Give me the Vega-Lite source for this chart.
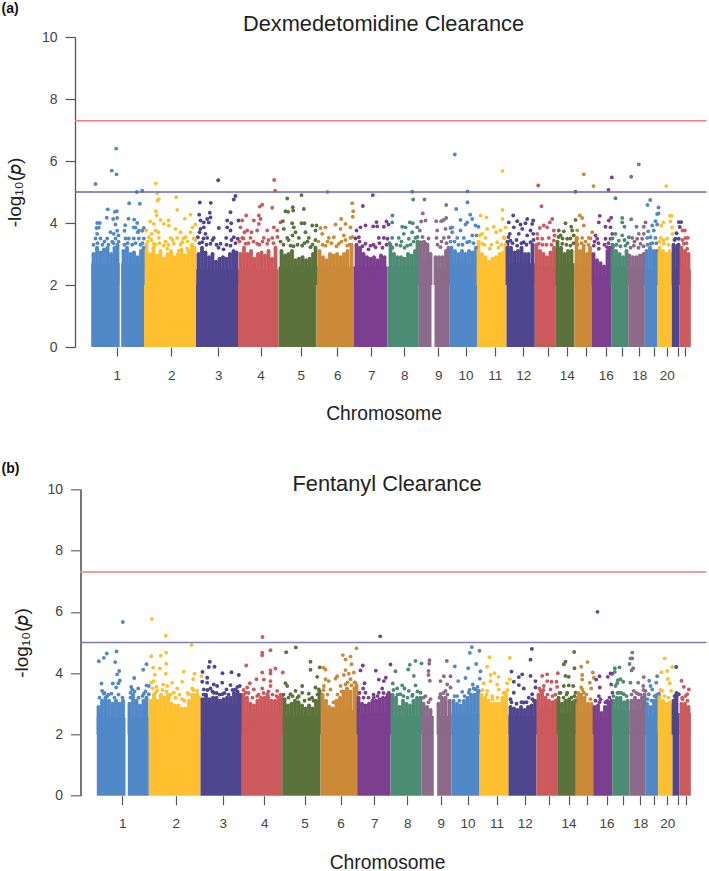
{"$schema":"https://vega.github.io/schema/vega-lite/v6.json","padding":{"left":1,"top":2,"right":0,"bottom":0},"bounds":"flush","spacing":142.3,"config":{"view":{"stroke":null},"font":"Liberation Sans"},
"datasets":{
"th_a":[{"y":7.3,"k":"genome-wide"},{"y":5,"k":"suggestive"}],
"rects_a":[{"c":1,"x":90.7,"x2":119.2,"y":2.7},{"c":1,"x":120.7,"x2":143.5,"y":2.7},{"c":2,"x":143.5,"x2":195.5,"y":2.6},{"c":3,"x":195.5,"x2":237.5,"y":2.5},{"c":4,"x":237.5,"x2":278,"y":2.5},{"c":5,"x":278,"x2":316,"y":2.6},{"c":6,"x":316,"x2":353.5,"y":2.6},{"c":7,"x":353.5,"x2":387,"y":2.6},{"c":8,"x":387,"x2":418.3,"y":2.6},{"c":9,"x":418.3,"x2":431,"y":2.8},{"c":9,"x":434,"x2":448.7,"y":2.5},{"c":10,"x":448.7,"x2":477,"y":2.7},{"c":11,"x":477,"x2":506,"y":2.6},{"c":12,"x":506,"x2":534.3,"y":2.7},{"c":13,"x":534.3,"x2":555.3,"y":2.6},{"c":14,"x":555.3,"x2":574,"y":2.7},{"c":15,"x":574,"x2":591,"y":2.6},{"c":16,"x":591,"x2":610.7,"y":2.3},{"c":17,"x":610.7,"x2":627.7,"y":2.6},{"c":18,"x":627.7,"x2":644.3,"y":2.6},{"c":19,"x":644.3,"x2":657,"y":2.5},{"c":20,"x":657,"x2":671.3,"y":2.4},{"c":21,"x":671.3,"x2":679,"y":2.5},{"c":22,"x":679,"x2":690.3,"y":2.5}],
"cols_a":[{"c":1,"x":93,"y":3},{"c":1,"x":96.5,"y":3.2},{"c":1,"x":100,"y":3.05},{"c":1,"x":103.5,"y":3.15},{"c":1,"x":107,"y":3.2},{"c":1,"x":110.5,"y":3},{"c":1,"x":114,"y":3.2},{"c":1,"x":117,"y":3.3},{"c":1,"x":123,"y":3.1},{"c":1,"x":126.5,"y":3.2},{"c":1,"x":130,"y":3},{"c":1,"x":133.5,"y":3.05},{"c":1,"x":137,"y":2.9},{"c":1,"x":140.5,"y":3.1},{"c":1,"x":143,"y":3.2},{"c":2,"x":146,"y":3.3},{"c":2,"x":149.5,"y":3},{"c":2,"x":153,"y":3.2},{"c":2,"x":156.5,"y":2.95},{"c":2,"x":160,"y":3.1},{"c":2,"x":163.5,"y":2.85},{"c":2,"x":167,"y":3},{"c":2,"x":170.5,"y":3.1},{"c":2,"x":174,"y":2.9},{"c":2,"x":177.5,"y":3},{"c":2,"x":181,"y":3.15},{"c":2,"x":184.5,"y":2.95},{"c":2,"x":188,"y":3.1},{"c":2,"x":191.5,"y":3.3},{"c":2,"x":194,"y":3.2},{"c":3,"x":198,"y":3},{"c":3,"x":201.5,"y":3.2},{"c":3,"x":205,"y":3.05},{"c":3,"x":208.5,"y":2.9},{"c":3,"x":212,"y":3},{"c":3,"x":215.5,"y":2.75},{"c":3,"x":219,"y":2.85},{"c":3,"x":222.5,"y":2.9},{"c":3,"x":226,"y":2.85},{"c":3,"x":229.5,"y":3},{"c":3,"x":233,"y":3.1},{"c":3,"x":236,"y":3.05},{"c":4,"x":240,"y":3},{"c":4,"x":243.5,"y":3.2},{"c":4,"x":247,"y":3},{"c":4,"x":250.5,"y":3.1},{"c":4,"x":254,"y":2.85},{"c":4,"x":257.5,"y":3},{"c":4,"x":261,"y":3.05},{"c":4,"x":264.5,"y":2.95},{"c":4,"x":268,"y":3.1},{"c":4,"x":271.5,"y":2.85},{"c":4,"x":275,"y":3.2},{"c":5,"x":281,"y":3.1},{"c":5,"x":284.5,"y":2.95},{"c":5,"x":288,"y":3},{"c":5,"x":291.5,"y":3.1},{"c":5,"x":295,"y":2.8},{"c":5,"x":298.5,"y":2.85},{"c":5,"x":302,"y":2.9},{"c":5,"x":305.5,"y":2.8},{"c":5,"x":309,"y":2.85},{"c":5,"x":312.5,"y":3},{"c":5,"x":315,"y":3.2},{"c":6,"x":319,"y":3.1},{"c":6,"x":322.5,"y":2.9},{"c":6,"x":326,"y":2.8},{"c":6,"x":329.5,"y":3},{"c":6,"x":333,"y":2.95},{"c":6,"x":336.5,"y":3},{"c":6,"x":340,"y":2.9},{"c":6,"x":343.5,"y":3},{"c":6,"x":347,"y":3.1},{"c":6,"x":351,"y":3.3},{"c":7,"x":356,"y":3.3},{"c":7,"x":359.5,"y":3.2},{"c":7,"x":363,"y":3},{"c":7,"x":366.5,"y":2.9},{"c":7,"x":370,"y":2.85},{"c":7,"x":373.5,"y":2.9},{"c":7,"x":377,"y":2.8},{"c":7,"x":380.5,"y":2.95},{"c":7,"x":384,"y":2.9},{"c":8,"x":390,"y":3.3},{"c":8,"x":393.5,"y":3},{"c":8,"x":397,"y":2.9},{"c":8,"x":400.5,"y":2.9},{"c":8,"x":404,"y":2.85},{"c":8,"x":407.5,"y":3},{"c":8,"x":411,"y":2.95},{"c":8,"x":414.5,"y":3.1},{"c":8,"x":417,"y":3.4},{"c":9,"x":420,"y":3.3},{"c":9,"x":423.5,"y":3.4},{"c":9,"x":427,"y":3.3},{"c":9,"x":430,"y":3},{"c":9,"x":435,"y":2.9},{"c":9,"x":438.5,"y":2.9},{"c":9,"x":442,"y":2.9},{"c":9,"x":445.5,"y":3.1},{"c":9,"x":448,"y":3.2},{"c":10,"x":451,"y":3.2},{"c":10,"x":454.5,"y":3.1},{"c":10,"x":458,"y":3},{"c":10,"x":461.5,"y":3.1},{"c":10,"x":465,"y":3},{"c":10,"x":468.5,"y":3.1},{"c":10,"x":472,"y":3.05},{"c":10,"x":475.5,"y":3.2},{"c":11,"x":478,"y":3.4},{"c":11,"x":481.5,"y":3},{"c":11,"x":485,"y":2.9},{"c":11,"x":488.5,"y":2.75},{"c":11,"x":492,"y":2.85},{"c":11,"x":495.5,"y":2.9},{"c":11,"x":499,"y":3},{"c":11,"x":502.5,"y":3.05},{"c":11,"x":505,"y":3.3},{"c":12,"x":507,"y":3.4},{"c":12,"x":510.5,"y":3.2},{"c":12,"x":514,"y":3.05},{"c":12,"x":517.5,"y":3.1},{"c":12,"x":521,"y":3.2},{"c":12,"x":524.5,"y":3},{"c":12,"x":528,"y":3},{"c":12,"x":532,"y":3.3},{"c":13,"x":536,"y":3.3},{"c":13,"x":539.5,"y":3.1},{"c":13,"x":543,"y":3},{"c":13,"x":546.5,"y":2.9},{"c":13,"x":550,"y":3.05},{"c":13,"x":553.5,"y":3.2},{"c":14,"x":557,"y":3.4},{"c":14,"x":560.5,"y":3.2},{"c":14,"x":564,"y":3},{"c":14,"x":567.5,"y":3.1},{"c":14,"x":571,"y":3.1},{"c":15,"x":576,"y":3.5},{"c":15,"x":579.5,"y":3.1},{"c":15,"x":583,"y":3.2},{"c":15,"x":586.5,"y":3},{"c":15,"x":589.5,"y":3.2},{"c":16,"x":593,"y":3},{"c":16,"x":596.5,"y":2.8},{"c":16,"x":600,"y":2.7},{"c":16,"x":603.5,"y":2.6},{"c":16,"x":607,"y":3.1},{"c":16,"x":609.5,"y":3.2},{"c":17,"x":612,"y":3.3},{"c":17,"x":615.5,"y":3.1},{"c":17,"x":619,"y":3},{"c":17,"x":622.5,"y":2.9},{"c":17,"x":626,"y":3.1},{"c":18,"x":629,"y":2.95},{"c":18,"x":632.5,"y":2.9},{"c":18,"x":636,"y":2.9},{"c":18,"x":639.5,"y":2.95},{"c":18,"x":643,"y":3},{"c":19,"x":646,"y":3.1},{"c":19,"x":649.5,"y":3.2},{"c":19,"x":653,"y":3.1},{"c":19,"x":656,"y":3.1},{"c":20,"x":659,"y":3.2},{"c":20,"x":662.5,"y":3.1},{"c":20,"x":666,"y":3},{"c":20,"x":669.5,"y":3.1},{"c":21,"x":673,"y":3.3},{"c":21,"x":676.5,"y":3.2},{"c":21,"x":678,"y":3.3},{"c":22,"x":681,"y":3.2},{"c":22,"x":684.5,"y":3.1},{"c":22,"x":688,"y":3}],
"pts_a":[{"c":1,"x":95,"y":5.26},{"c":1,"x":115.7,"y":6.4},{"c":1,"x":111.3,"y":5.69},{"c":1,"x":116,"y":5.57},{"c":1,"x":136.3,"y":5},{"c":1,"x":141.7,"y":5.04},{"c":1,"x":128.7,"y":4.64},{"c":1,"x":139.3,"y":4.62},{"c":1,"x":107.3,"y":4.44},{"c":1,"x":114.3,"y":4.36},{"c":1,"x":116.3,"y":4.38},{"c":1,"x":106.3,"y":4.17},{"c":1,"x":112.7,"y":4.13},{"c":1,"x":116.7,"y":4.16},{"c":1,"x":128,"y":4.14},{"c":1,"x":133.7,"y":4.11},{"c":1,"x":136.7,"y":4},{"c":1,"x":96.7,"y":4},{"c":1,"x":99.3,"y":4},{"c":1,"x":96,"y":3.84},{"c":1,"x":115,"y":3.95},{"c":1,"x":124.7,"y":3.93},{"c":1,"x":133.3,"y":3.86},{"c":1,"x":138.3,"y":3.75},{"c":1,"x":143.3,"y":3.84},{"c":1,"x":95,"y":3.5},{"c":1,"x":100,"y":3.5},{"c":1,"x":96.7,"y":3.65},{"c":1,"x":98.3,"y":3.85},{"c":1,"x":106.7,"y":3.5},{"c":1,"x":110,"y":3.7},{"c":1,"x":115,"y":3.5},{"c":1,"x":113.3,"y":3.65},{"c":1,"x":116.7,"y":3.75},{"c":1,"x":111.7,"y":3.4},{"c":1,"x":125,"y":3.5},{"c":1,"x":128.3,"y":3.5},{"c":1,"x":133.3,"y":3.5},{"c":1,"x":138.3,"y":3.5},{"c":1,"x":143.3,"y":3.5},{"c":1,"x":131.7,"y":3.3},{"c":1,"x":124,"y":3.75},{"c":1,"x":135,"y":3.85},{"c":1,"x":137.3,"y":3.7},{"c":1,"x":141.7,"y":3.75},
{"c":2,"x":155.3,"y":5.28},{"c":2,"x":156.7,"y":4.96},{"c":2,"x":158.3,"y":4.77},{"c":2,"x":157,"y":4.72},{"c":2,"x":175.7,"y":4.83},{"c":2,"x":176.7,"y":4.42},{"c":2,"x":155.3,"y":4.38},{"c":2,"x":156,"y":4.24},{"c":2,"x":149.7,"y":4.05},{"c":2,"x":160,"y":4.1},{"c":2,"x":168,"y":4.08},{"c":2,"x":168.3,"y":3.92},{"c":2,"x":190,"y":4.27},{"c":2,"x":184.3,"y":4.14},{"c":2,"x":195,"y":3.95},{"c":2,"x":192,"y":3.86},{"c":2,"x":145.7,"y":3.76},{"c":2,"x":153.3,"y":3.97},{"c":2,"x":155,"y":3.75},{"c":2,"x":163.3,"y":3.97},{"c":2,"x":175,"y":3.81},{"c":2,"x":180,"y":3.7},{"c":2,"x":190,"y":3.7},{"c":2,"x":148.3,"y":3.54},{"c":2,"x":158.3,"y":3.52},{"c":2,"x":170,"y":3.52},{"c":2,"x":176.7,"y":3.52},{"c":2,"x":185,"y":3.54},{"c":2,"x":153.3,"y":3.33},{"c":2,"x":163.3,"y":3.27},{"c":2,"x":173.3,"y":3.33},{"c":2,"x":181.7,"y":3.38},{"c":2,"x":191.7,"y":3.27},{"c":2,"x":166.7,"y":3.17},{"c":2,"x":178.3,"y":3.11},{"c":2,"x":186.7,"y":3.17},
{"c":3,"x":217.7,"y":5.38},{"c":3,"x":235,"y":4.87},{"c":3,"x":233.3,"y":4.76},{"c":3,"x":199.3,"y":4.66},{"c":3,"x":210.3,"y":4.65},{"c":3,"x":209.3,"y":4.33},{"c":3,"x":230,"y":4.35},{"c":3,"x":198.7,"y":4.27},{"c":3,"x":210,"y":4.18},{"c":3,"x":206.7,"y":4.13},{"c":3,"x":200,"y":4.08},{"c":3,"x":203.3,"y":4.02},{"c":3,"x":238,"y":4.08},{"c":3,"x":226.7,"y":4.08},{"c":3,"x":230.7,"y":3.99},{"c":3,"x":203.3,"y":3.86},{"c":3,"x":218.3,"y":3.84},{"c":3,"x":226.7,"y":3.86},{"c":3,"x":230,"y":3.76},{"c":3,"x":200,"y":3.81},{"c":3,"x":208.3,"y":4.02},{"c":3,"x":197.3,"y":3.54},{"c":3,"x":206.7,"y":3.52},{"c":3,"x":213.3,"y":3.52},{"c":3,"x":225.7,"y":3.52},{"c":3,"x":233.3,"y":3.54},{"c":3,"x":237.3,"y":3.49},{"c":3,"x":220,"y":3.33},{"c":3,"x":210,"y":3.33},{"c":3,"x":201.7,"y":3.38},{"c":3,"x":230,"y":3.27},
{"c":4,"x":273.7,"y":5.39},{"c":4,"x":274.7,"y":5.04},{"c":4,"x":261.7,"y":4.59},{"c":4,"x":259.3,"y":4.53},{"c":4,"x":271.7,"y":4.49},{"c":4,"x":245.7,"y":4.24},{"c":4,"x":258.3,"y":4.24},{"c":4,"x":241.7,"y":4.08},{"c":4,"x":253.3,"y":4.08},{"c":4,"x":260,"y":4.13},{"c":4,"x":280,"y":4.02},{"c":4,"x":258.3,"y":3.97},{"c":4,"x":240,"y":3.86},{"c":4,"x":273.3,"y":3.86},{"c":4,"x":246.7,"y":3.76},{"c":4,"x":256.7,"y":3.76},{"c":4,"x":266.7,"y":3.76},{"c":4,"x":276.7,"y":3.76},{"c":4,"x":241.7,"y":3.52},{"c":4,"x":250,"y":3.52},{"c":4,"x":263.3,"y":3.52},{"c":4,"x":271.7,"y":3.52},{"c":4,"x":245,"y":3.33},{"c":4,"x":256.7,"y":3.33},{"c":4,"x":266.7,"y":3.33},
{"c":5,"x":301,"y":4.9},{"c":5,"x":286.7,"y":4.79},{"c":5,"x":292.3,"y":4.51},{"c":5,"x":292.7,"y":4.4},{"c":5,"x":303.3,"y":4.45},{"c":5,"x":285,"y":4.38},{"c":5,"x":287.7,"y":4.36},{"c":5,"x":282.3,"y":4.06},{"c":5,"x":291.7,"y":3.99},{"c":5,"x":301,"y":3.99},{"c":5,"x":304,"y":3.99},{"c":5,"x":311.7,"y":3.92},{"c":5,"x":316,"y":3.92},{"c":5,"x":283.3,"y":3.81},{"c":5,"x":293.3,"y":3.86},{"c":5,"x":295,"y":3.7},{"c":5,"x":305,"y":3.7},{"c":5,"x":315,"y":3.76},{"c":5,"x":286.7,"y":3.52},{"c":5,"x":298.3,"y":3.52},{"c":5,"x":308.3,"y":3.52},{"c":5,"x":290,"y":3.27},{"c":5,"x":301.7,"y":3.27},{"c":5,"x":310,"y":3.22},
{"c":6,"x":327,"y":5},{"c":6,"x":351.7,"y":4.64},{"c":6,"x":352.7,"y":4.38},{"c":6,"x":352.3,"y":4.2},{"c":6,"x":340.7,"y":4.13},{"c":6,"x":335,"y":3.95},{"c":6,"x":345,"y":3.97},{"c":6,"x":320,"y":3.84},{"c":6,"x":325,"y":3.86},{"c":6,"x":340,"y":3.81},{"c":6,"x":350,"y":3.86},{"c":6,"x":321.7,"y":3.65},{"c":6,"x":333.3,"y":3.54},{"c":6,"x":343.3,"y":3.6},{"c":6,"x":328.3,"y":3.52},{"c":6,"x":350,"y":3.52},{"c":6,"x":338.3,"y":3.33},{"c":6,"x":325,"y":3.27},{"c":6,"x":346.7,"y":3.27},
{"c":7,"x":372.3,"y":4.9},{"c":7,"x":362.3,"y":4.55},{"c":7,"x":376,"y":4.03},{"c":7,"x":386,"y":4.05},{"c":7,"x":365,"y":3.92},{"c":7,"x":360,"y":3.86},{"c":7,"x":372.7,"y":3.89},{"c":7,"x":376.7,"y":3.89},{"c":7,"x":383.3,"y":3.88},{"c":7,"x":388,"y":3.95},{"c":7,"x":356,"y":3.76},{"c":7,"x":358.3,"y":3.54},{"c":7,"x":378.3,"y":3.52},{"c":7,"x":383.3,"y":3.52},{"c":7,"x":387,"y":3.49},{"c":7,"x":365,"y":3.33},{"c":7,"x":370,"y":3.27},{"c":7,"x":375,"y":3.22},
{"c":8,"x":411.7,"y":5.01},{"c":8,"x":412.7,"y":4.76},{"c":9,"x":424,"y":4.76},{"c":9,"x":422.3,"y":4.31},{"c":8,"x":392,"y":4.24},{"c":8,"x":401.7,"y":3.88},{"c":8,"x":405,"y":3.86},{"c":8,"x":409.3,"y":4.02},{"c":8,"x":412.3,"y":3.99},{"c":9,"x":420.7,"y":4.05},{"c":9,"x":425,"y":4.08},{"c":8,"x":416.7,"y":3.86},{"c":9,"x":419.3,"y":3.76},{"c":8,"x":411.7,"y":3.7},{"c":8,"x":391.7,"y":4.02},{"c":8,"x":403.3,"y":3.65},{"c":8,"x":391.7,"y":3.52},{"c":8,"x":398.3,"y":3.52},{"c":8,"x":408.3,"y":3.49},{"c":8,"x":415,"y":3.52},{"c":8,"x":400,"y":3.27},{"c":8,"x":406.7,"y":3.27},
{"c":9,"x":445.7,"y":4.58},{"c":9,"x":445.7,"y":4.16},{"c":9,"x":443.3,"y":4.1},{"c":9,"x":435.7,"y":4.06},{"c":9,"x":440.7,"y":4.06},{"c":9,"x":436.7,"y":3.76},{"c":9,"x":445,"y":3.81},{"c":9,"x":450,"y":3.84},{"c":9,"x":436,"y":3.52},{"c":9,"x":443.3,"y":3.52},{"c":9,"x":448.3,"y":3.54},{"c":9,"x":420,"y":3.38},{"c":9,"x":425,"y":3.33},{"c":9,"x":440,"y":3.22},
{"c":10,"x":454.3,"y":6.21},{"c":10,"x":467,"y":5.02},{"c":10,"x":467,"y":4.67},{"c":10,"x":455.7,"y":4.45},{"c":10,"x":469.7,"y":4.27},{"c":10,"x":460,"y":4.1},{"c":10,"x":471.7,"y":4.13},{"c":10,"x":466.7,"y":4.02},{"c":10,"x":475,"y":3.92},{"c":10,"x":451.7,"y":3.86},{"c":10,"x":465,"y":3.95},{"c":10,"x":460,"y":3.76},{"c":10,"x":451.7,"y":3.7},{"c":10,"x":478,"y":3.88},{"c":10,"x":456.7,"y":3.52},{"c":10,"x":463.3,"y":3.52},{"c":10,"x":471.7,"y":3.6},{"c":10,"x":476,"y":3.6},{"c":10,"x":466.7,"y":3.38},
{"c":11,"x":502,"y":5.68},{"c":11,"x":502,"y":4.42},{"c":11,"x":480.3,"y":4.24},{"c":11,"x":486,"y":4.18},{"c":11,"x":502,"y":4.13},{"c":11,"x":493.3,"y":3.88},{"c":11,"x":505,"y":3.86},{"c":11,"x":495.7,"y":3.7},{"c":11,"x":486.7,"y":3.81},{"c":11,"x":481.7,"y":3.65},{"c":11,"x":500,"y":3.76},{"c":11,"x":485,"y":3.52},{"c":11,"x":496.7,"y":3.38},{"c":11,"x":503.3,"y":3.54},{"c":11,"x":481.7,"y":3.33},{"c":11,"x":489.3,"y":3.17},
{"c":12,"x":512.7,"y":4.24},{"c":12,"x":508.3,"y":4.02},{"c":12,"x":516.7,"y":4.06},{"c":12,"x":526.7,"y":4.13},{"c":12,"x":532.7,"y":4.08},{"c":12,"x":520,"y":3.95},{"c":12,"x":525,"y":3.99},{"c":12,"x":531.7,"y":3.97},{"c":12,"x":513.3,"y":3.86},{"c":12,"x":521.7,"y":3.81},{"c":12,"x":530,"y":3.76},{"c":12,"x":509.3,"y":3.65},{"c":12,"x":518.3,"y":3.65},{"c":12,"x":526.7,"y":3.6},{"c":12,"x":532.7,"y":3.65},{"c":12,"x":510,"y":3.43},{"c":12,"x":523.3,"y":3.38},{"c":12,"x":516.7,"y":3.27},{"c":12,"x":530,"y":3.38},
{"c":13,"x":537.7,"y":5.21},{"c":13,"x":541,"y":4.54},{"c":13,"x":551.7,"y":4.13},{"c":13,"x":549.3,"y":4.02},{"c":13,"x":543.3,"y":3.92},{"c":13,"x":539.3,"y":3.84},{"c":13,"x":546.7,"y":3.86},{"c":13,"x":536.7,"y":3.65},{"c":13,"x":553.3,"y":3.76},{"c":13,"x":541.7,"y":3.49},{"c":13,"x":548.3,"y":3.52},{"c":13,"x":538.3,"y":3.33},{"c":13,"x":553.3,"y":3.43},
{"c":14,"x":575,"y":5.01},{"c":14,"x":575,"y":4.1},{"c":14,"x":565,"y":3.99},{"c":14,"x":570.7,"y":3.88},{"c":14,"x":558.3,"y":3.76},{"c":14,"x":563.3,"y":3.73},{"c":14,"x":571.7,"y":3.76},{"c":14,"x":560,"y":3.6},{"c":14,"x":566.7,"y":3.49},{"c":14,"x":573.3,"y":3.6},{"c":14,"x":561.7,"y":3.33},{"c":14,"x":570,"y":3.27},
{"c":15,"x":583.3,"y":5.57},{"c":15,"x":593,"y":5.19},{"c":15,"x":579.3,"y":4.24},{"c":15,"x":581.7,"y":4.16},{"c":15,"x":583.3,"y":3.92},{"c":15,"x":576.7,"y":3.76},{"c":15,"x":591.7,"y":3.7},{"c":15,"x":581.7,"y":3.52},{"c":15,"x":588.3,"y":3.52},{"c":15,"x":576.7,"y":3.52},{"c":15,"x":583.3,"y":3.27},
{"c":16,"x":611.3,"y":5.47},{"c":16,"x":608,"y":5.07},{"c":16,"x":599.3,"y":4.23},{"c":16,"x":598.3,"y":4.02},{"c":16,"x":610.7,"y":4.17},{"c":16,"x":608.3,"y":4.08},{"c":16,"x":605,"y":3.88},{"c":16,"x":610,"y":3.86},{"c":16,"x":611.7,"y":3.65},{"c":16,"x":595,"y":3.6},{"c":16,"x":596.7,"y":3.49},{"c":16,"x":605,"y":3.49},{"c":16,"x":610,"y":3.49},{"c":16,"x":593.3,"y":3.27},{"c":16,"x":598.3,"y":3.17},{"c":16,"x":606.7,"y":3.22},
{"c":17,"x":615,"y":4.8},{"c":17,"x":621.7,"y":4.16},{"c":17,"x":621.7,"y":4.02},{"c":17,"x":624,"y":3.88},{"c":17,"x":615,"y":3.65},{"c":17,"x":621.7,"y":3.6},{"c":17,"x":628.3,"y":3.54},{"c":17,"x":618.3,"y":3.43},{"c":17,"x":613.3,"y":3.27},{"c":17,"x":625,"y":3.27},
{"c":18,"x":638.3,"y":5.89},{"c":18,"x":630.7,"y":5.49},{"c":18,"x":630.7,"y":4.12},{"c":18,"x":636,"y":3.88},{"c":18,"x":643.3,"y":3.88},{"c":18,"x":645,"y":4.02},{"c":18,"x":638.3,"y":3.65},{"c":18,"x":643.3,"y":3.65},{"c":18,"x":631.7,"y":3.52},{"c":18,"x":636.7,"y":3.49},{"c":18,"x":641.7,"y":3.49},{"c":18,"x":633.3,"y":3.27},{"c":18,"x":640,"y":3.33},
{"c":19,"x":649.7,"y":4.74},{"c":19,"x":647,"y":4.58},{"c":19,"x":658,"y":4.5},{"c":19,"x":658,"y":4.31},{"c":19,"x":656.7,"y":4.29},{"c":19,"x":655,"y":4.06},{"c":19,"x":651.7,"y":3.92},{"c":19,"x":647.7,"y":3.73},{"c":19,"x":656.7,"y":3.95},{"c":19,"x":653.3,"y":3.76},{"c":19,"x":650,"y":3.54},{"c":19,"x":655,"y":3.52},{"c":19,"x":646.7,"y":3.52},{"c":19,"x":650,"y":3.33},
{"c":20,"x":665.7,"y":5.19},{"c":20,"x":669.3,"y":4.23},{"c":20,"x":671.3,"y":4.23},{"c":20,"x":662.7,"y":4.02},{"c":20,"x":670,"y":4.05},{"c":20,"x":660.7,"y":3.91},{"c":20,"x":671.7,"y":3.86},{"c":20,"x":660,"y":3.52},{"c":20,"x":666.7,"y":3.49},{"c":20,"x":671.7,"y":3.65},{"c":20,"x":663.3,"y":3.33},
{"c":21,"x":678.3,"y":4.03},{"c":21,"x":680.7,"y":4.03},{"c":21,"x":679.3,"y":3.87},{"c":21,"x":676,"y":3.67},{"c":21,"x":675,"y":3.49},{"c":21,"x":678.3,"y":3.49},{"c":21,"x":676.7,"y":3.27},
{"c":22,"x":682,"y":3.76},{"c":22,"x":684.3,"y":3.76},{"c":22,"x":685,"y":3.52},{"c":22,"x":687.3,"y":3.52},{"c":22,"x":683.3,"y":3.33},{"c":22,"x":686.7,"y":3.17},
{"c":1,"x":93,"y":3.3},{"c":1,"x":97,"y":3.35},{"c":1,"x":102,"y":3.3},{"c":1,"x":104,"y":3.4},{"c":1,"x":108,"y":3.3},{"c":1,"x":113,"y":3.35},{"c":1,"x":118,"y":3.4},{"c":1,"x":118,"y":3.6},{"c":1,"x":124,"y":3.3},{"c":1,"x":127,"y":3.35},{"c":1,"x":135,"y":3.35},{"c":1,"x":140,"y":3.3},{"c":1,"x":142,"y":3.35},{"c":2,"x":147,"y":3.4},{"c":2,"x":151,"y":3.45},{"c":2,"x":155,"y":3.3},{"c":2,"x":159,"y":3.35},{"c":2,"x":165,"y":3.4},{"c":2,"x":168,"y":3.3},{"c":2,"x":172,"y":3.45},{"c":2,"x":180,"y":3.3},{"c":2,"x":183,"y":3.5},{"c":2,"x":187,"y":3.4},{"c":2,"x":193,"y":3.5},{"c":2,"x":195,"y":3.45},{"c":2,"x":151,"y":3.65},{"c":2,"x":158,"y":3.7},{"c":3,"x":199,"y":3.35},{"c":3,"x":203,"y":3.5},{"c":3,"x":206,"y":3.3},{"c":3,"x":212,"y":3.45},{"c":3,"x":216,"y":3.3},{"c":3,"x":218,"y":3.2},{"c":3,"x":223,"y":3.15},{"c":3,"x":226,"y":3.3},{"c":3,"x":231,"y":3.45},{"c":3,"x":235,"y":3.35},{"c":3,"x":199,"y":3.7},{"c":3,"x":205,"y":3.65},{"c":4,"x":239,"y":3.4},{"c":4,"x":243,"y":3.5},{"c":4,"x":248,"y":3.35},{"c":4,"x":253,"y":3.4},{"c":4,"x":259,"y":3.3},{"c":4,"x":262,"y":3.4},{"c":4,"x":268,"y":3.45},{"c":4,"x":273,"y":3.35},{"c":4,"x":277,"y":3.55},{"c":4,"x":244,"y":3.7},{"c":4,"x":251,"y":3.7},{"c":5,"x":280,"y":3.4},{"c":5,"x":283,"y":3.3},{"c":5,"x":288,"y":3.45},{"c":5,"x":293,"y":3.25},{"c":5,"x":297,"y":3.3},{"c":5,"x":304,"y":3.35},{"c":5,"x":307,"y":3.4},{"c":5,"x":312,"y":3.3},{"c":5,"x":315,"y":3.45},{"c":5,"x":292,"y":3.6},{"c":6,"x":318,"y":3.4},{"c":6,"x":322,"y":3.3},{"c":6,"x":327,"y":3.4},{"c":6,"x":331,"y":3.35},{"c":6,"x":336,"y":3.25},{"c":6,"x":341,"y":3.4},{"c":6,"x":345,"y":3.45},{"c":6,"x":349,"y":3.3},{"c":6,"x":352,"y":3.55},{"c":7,"x":355,"y":3.5},{"c":7,"x":359,"y":3.4},{"c":7,"x":362,"y":3.25},{"c":7,"x":368,"y":3.15},{"c":7,"x":373,"y":3.3},{"c":7,"x":379,"y":3.35},{"c":7,"x":382,"y":3.2},{"c":7,"x":386,"y":3.3},{"c":8,"x":389,"y":3.35},{"c":8,"x":392,"y":3.2},{"c":8,"x":396,"y":3.3},{"c":8,"x":401,"y":3.4},{"c":8,"x":404,"y":3.2},{"c":8,"x":410,"y":3.3},{"c":8,"x":413,"y":3.4},{"c":8,"x":417,"y":3.55},{"c":9,"x":422,"y":3.55},{"c":9,"x":428,"y":3.5},{"c":9,"x":437,"y":3.3},{"c":9,"x":441,"y":3.4},{"c":9,"x":446,"y":3.35},{"c":10,"x":450,"y":3.4},{"c":10,"x":454,"y":3.4},{"c":10,"x":458,"y":3.3},{"c":10,"x":462,"y":3.3},{"c":10,"x":469,"y":3.4},{"c":10,"x":473,"y":3.35},{"c":11,"x":479,"y":3.6},{"c":11,"x":484,"y":3.3},{"c":11,"x":491,"y":3.3},{"c":11,"x":498,"y":3.2},{"c":11,"x":501,"y":3.3},{"c":11,"x":504,"y":3.5},{"c":12,"x":508,"y":3.55},{"c":12,"x":512,"y":3.35},{"c":12,"x":516,"y":3.45},{"c":12,"x":521,"y":3.35},{"c":12,"x":526,"y":3.3},{"c":12,"x":533,"y":3.45},{"c":13,"x":537,"y":3.5},{"c":13,"x":542,"y":3.3},{"c":13,"x":546,"y":3.3},{"c":13,"x":551,"y":3.3},{"c":13,"x":554,"y":3.6},{"c":14,"x":558,"y":3.55},{"c":14,"x":562,"y":3.5},{"c":14,"x":566,"y":3.3},{"c":14,"x":570,"y":3.5},{"c":14,"x":573,"y":3.35},{"c":15,"x":577,"y":3.3},{"c":15,"x":581,"y":3.35},{"c":15,"x":585,"y":3.4},{"c":15,"x":588,"y":3.3},{"c":15,"x":590,"y":3.5},{"c":16,"x":594,"y":3.4},{"c":16,"x":608,"y":3.35},{"c":16,"x":604,"y":3.3},{"c":16,"x":598,"y":3.35},{"c":17,"x":612,"y":3.5},{"c":17,"x":616,"y":3.3},{"c":17,"x":620,"y":3.25},{"c":17,"x":624,"y":3.45},{"c":17,"x":627,"y":3.35},{"c":18,"x":630,"y":3.2},{"c":18,"x":634,"y":3.4},{"c":18,"x":638,"y":3.2},{"c":18,"x":643,"y":3.25},{"c":19,"x":647,"y":3.3},{"c":19,"x":652,"y":3.35},{"c":19,"x":656,"y":3.35},{"c":20,"x":659,"y":3.4},{"c":20,"x":663,"y":3.45},{"c":20,"x":668,"y":3.3},{"c":21,"x":674,"y":3.45},{"c":22,"x":682,"y":3.45},{"c":22,"x":686,"y":3.35}],
"rects_b":[{"c":1,"x":96.3,"x2":125,"y":2.55},{"c":1,"x":127.3,"x2":148.3,"y":2.55},{"c":2,"x":148.3,"x2":200,"y":2.7},{"c":3,"x":200,"x2":241.3,"y":3},{"c":4,"x":241.3,"x2":281.7,"y":2.7},{"c":5,"x":281.7,"x2":320,"y":2.6},{"c":6,"x":320,"x2":356.7,"y":2.8},{"c":7,"x":356.7,"x2":390,"y":2.7},{"c":8,"x":390,"x2":421,"y":2.6},{"c":9,"x":421,"x2":433.3,"y":2.6},{"c":9,"x":436.7,"x2":451,"y":2.6},{"c":10,"x":451,"x2":479,"y":2.7},{"c":11,"x":479,"x2":508,"y":2.7},{"c":12,"x":508,"x2":536,"y":2.6},{"c":13,"x":536,"x2":556.7,"y":2.9},{"c":14,"x":556.7,"x2":575.3,"y":2.7},{"c":15,"x":575.3,"x2":592.7,"y":2.7},{"c":16,"x":592.7,"x2":611.7,"y":2.5},{"c":17,"x":611.7,"x2":629,"y":2.8},{"c":18,"x":629,"x2":644.7,"y":2.8},{"c":19,"x":644.7,"x2":657.7,"y":2.6},{"c":20,"x":657.7,"x2":672,"y":2.7},{"c":21,"x":672,"x2":679,"y":2.7},{"c":22,"x":679,"x2":690.3,"y":2.7}],
"cols_b":[{"c":1,"x":98,"y":2.9},{"c":1,"x":101.5,"y":3.1},{"c":1,"x":105,"y":3.2},{"c":1,"x":108.5,"y":3.1},{"c":1,"x":112,"y":3},{"c":1,"x":115.5,"y":3.1},{"c":1,"x":119,"y":3},{"c":1,"x":122.5,"y":3.1},{"c":1,"x":129,"y":3},{"c":1,"x":132.5,"y":3.3},{"c":1,"x":136,"y":3.1},{"c":1,"x":139.5,"y":2.95},{"c":1,"x":143,"y":3.1},{"c":1,"x":146,"y":3.2},{"c":2,"x":150,"y":3.1},{"c":2,"x":153.5,"y":3.3},{"c":2,"x":157,"y":3.1},{"c":2,"x":160.5,"y":3.3},{"c":2,"x":164,"y":3.2},{"c":2,"x":167.5,"y":3.3},{"c":2,"x":171,"y":3},{"c":2,"x":174.5,"y":2.95},{"c":2,"x":178,"y":2.95},{"c":2,"x":181.5,"y":2.85},{"c":2,"x":185,"y":2.85},{"c":2,"x":188.5,"y":3.1},{"c":2,"x":192,"y":3.3},{"c":2,"x":195.5,"y":3.3},{"c":2,"x":199,"y":3.2},{"c":3,"x":202,"y":3.15},{"c":3,"x":205.5,"y":3.3},{"c":3,"x":209,"y":3.15},{"c":3,"x":212.5,"y":3.2},{"c":3,"x":216,"y":3.2},{"c":3,"x":219.5,"y":3.1},{"c":3,"x":223,"y":3.15},{"c":3,"x":226.5,"y":3.2},{"c":3,"x":230,"y":3.2},{"c":3,"x":233.5,"y":3.35},{"c":3,"x":237,"y":3.4},{"c":3,"x":240,"y":3.3},{"c":4,"x":243,"y":3.3},{"c":4,"x":246.5,"y":3.2},{"c":4,"x":250,"y":3},{"c":4,"x":253.5,"y":2.95},{"c":4,"x":257,"y":3.1},{"c":4,"x":260.5,"y":3.2},{"c":4,"x":264,"y":3.2},{"c":4,"x":267.5,"y":3.25},{"c":4,"x":271,"y":3.1},{"c":4,"x":274.5,"y":3.1},{"c":4,"x":278,"y":3.2},{"c":4,"x":280.5,"y":3.2},{"c":5,"x":284,"y":3.15},{"c":5,"x":287.5,"y":2.95},{"c":5,"x":291,"y":3},{"c":5,"x":294.5,"y":3.1},{"c":5,"x":298,"y":3.05},{"c":5,"x":301.5,"y":2.95},{"c":5,"x":305,"y":2.85},{"c":5,"x":308.5,"y":2.95},{"c":5,"x":312,"y":2.85},{"c":5,"x":315.5,"y":3.1},{"c":5,"x":319,"y":3.4},{"c":6,"x":322,"y":3.3},{"c":6,"x":325.5,"y":3.1},{"c":6,"x":329,"y":2.9},{"c":6,"x":332.5,"y":2.85},{"c":6,"x":336,"y":3.1},{"c":6,"x":339.5,"y":3.2},{"c":6,"x":343,"y":3.4},{"c":6,"x":346.5,"y":3.5},{"c":6,"x":350,"y":3.4},{"c":6,"x":354,"y":3.5},{"c":6,"x":356,"y":3.6},{"c":7,"x":358,"y":3.2},{"c":7,"x":361.5,"y":3},{"c":7,"x":365,"y":2.95},{"c":7,"x":368.5,"y":3},{"c":7,"x":372,"y":3.1},{"c":7,"x":375.5,"y":3.1},{"c":7,"x":379,"y":3.15},{"c":7,"x":382.5,"y":3.2},{"c":7,"x":386,"y":3.2},{"c":7,"x":389,"y":3.3},{"c":8,"x":392,"y":3.3},{"c":8,"x":395.5,"y":3.2},{"c":8,"x":399,"y":2.9},{"c":8,"x":402.5,"y":3.1},{"c":8,"x":406,"y":3},{"c":8,"x":409.5,"y":2.95},{"c":8,"x":413,"y":3.1},{"c":8,"x":416.5,"y":3.2},{"c":8,"x":420,"y":3.2},{"c":9,"x":423,"y":3},{"c":9,"x":426.5,"y":2.9},{"c":9,"x":430,"y":2.8},{"c":9,"x":438,"y":3},{"c":9,"x":441.5,"y":3.2},{"c":9,"x":445,"y":3.2},{"c":9,"x":449,"y":3.1},{"c":10,"x":453,"y":3.1},{"c":10,"x":456.5,"y":3},{"c":10,"x":460,"y":2.95},{"c":10,"x":463.5,"y":3.1},{"c":10,"x":467,"y":3.2},{"c":10,"x":470.5,"y":3.3},{"c":10,"x":474,"y":3.3},{"c":10,"x":477.5,"y":3.4},{"c":11,"x":481,"y":3.3},{"c":11,"x":484.5,"y":3.2},{"c":11,"x":488,"y":3.1},{"c":11,"x":491.5,"y":3},{"c":11,"x":495,"y":3},{"c":11,"x":498.5,"y":3},{"c":11,"x":502,"y":3.2},{"c":11,"x":505.5,"y":3.3},{"c":12,"x":510,"y":2.9},{"c":12,"x":513.5,"y":2.85},{"c":12,"x":517,"y":2.8},{"c":12,"x":520.5,"y":2.9},{"c":12,"x":524,"y":2.8},{"c":12,"x":527.5,"y":2.9},{"c":12,"x":531,"y":2.95},{"c":12,"x":534.5,"y":3.1},{"c":13,"x":538,"y":3.3},{"c":13,"x":541.5,"y":3.35},{"c":13,"x":545,"y":3.2},{"c":13,"x":548.5,"y":3.1},{"c":13,"x":552,"y":3.05},{"c":13,"x":555,"y":3.1},{"c":14,"x":558,"y":3.2},{"c":14,"x":561.5,"y":3},{"c":14,"x":565,"y":3.1},{"c":14,"x":568.5,"y":3.15},{"c":14,"x":572,"y":3.05},{"c":14,"x":574.5,"y":3.1},{"c":15,"x":577,"y":3.2},{"c":15,"x":580.5,"y":3.3},{"c":15,"x":584,"y":3.2},{"c":15,"x":587.5,"y":3},{"c":15,"x":591,"y":3},{"c":16,"x":594,"y":2.9},{"c":16,"x":597.5,"y":2.95},{"c":16,"x":601,"y":2.7},{"c":16,"x":604.5,"y":2.9},{"c":16,"x":608,"y":3.05},{"c":16,"x":611,"y":3.1},{"c":17,"x":613,"y":3.1},{"c":17,"x":616.5,"y":3.2},{"c":17,"x":620,"y":3.2},{"c":17,"x":623.5,"y":3.05},{"c":17,"x":627,"y":3.1},{"c":18,"x":631,"y":3.1},{"c":18,"x":634.5,"y":3.2},{"c":18,"x":638,"y":3.1},{"c":18,"x":641.5,"y":3.2},{"c":18,"x":644,"y":3.3},{"c":19,"x":646.5,"y":3},{"c":19,"x":650,"y":2.9},{"c":19,"x":653.5,"y":3.1},{"c":19,"x":656.5,"y":3.3},{"c":20,"x":659,"y":3.3},{"c":20,"x":662.5,"y":3.1},{"c":20,"x":666,"y":3},{"c":20,"x":669.5,"y":3.05},{"c":21,"x":673,"y":3.1},{"c":21,"x":676,"y":3.35},{"c":22,"x":681,"y":3},{"c":22,"x":684.5,"y":3},{"c":22,"x":688,"y":2.9}],
"pts_b":[{"c":1,"x":122.3,"y":5.67},{"c":1,"x":98.3,"y":4.39},{"c":1,"x":103.3,"y":4.5},{"c":1,"x":106.3,"y":4.64},{"c":1,"x":116,"y":4.71},{"c":1,"x":114.7,"y":4.36},{"c":1,"x":146,"y":4.29},{"c":1,"x":142.7,"y":4.11},{"c":1,"x":118.7,"y":4.07},{"c":1,"x":116.7,"y":3.96},{"c":1,"x":133.7,"y":3.84},{"c":1,"x":101,"y":3.66},{"c":1,"x":112.3,"y":3.66},{"c":1,"x":119.3,"y":3.76},{"c":1,"x":118,"y":3.67},{"c":1,"x":115.7,"y":3.53},{"c":1,"x":130.7,"y":3.55},{"c":1,"x":137.7,"y":3.5},{"c":1,"x":131.7,"y":3.47},{"c":1,"x":146,"y":3.6},{"c":1,"x":148.3,"y":3.58},{"c":1,"x":101.7,"y":3.42},{"c":1,"x":103.3,"y":3.33},{"c":1,"x":111,"y":3.33},{"c":1,"x":143.3,"y":3.33},{"c":1,"x":106.7,"y":3.25},{"c":1,"x":148.3,"y":3.31},{"c":1,"x":130,"y":3.36},
{"c":2,"x":151.3,"y":5.77},{"c":2,"x":165.3,"y":5.22},{"c":2,"x":191,"y":4.92},{"c":2,"x":165.7,"y":4.67},{"c":2,"x":150.7,"y":4.55},{"c":2,"x":160.3,"y":4.57},{"c":2,"x":165.7,"y":4.31},{"c":2,"x":152.7,"y":4.18},{"c":2,"x":159.3,"y":4.15},{"c":2,"x":183.3,"y":4.05},{"c":2,"x":165.3,"y":3.98},{"c":2,"x":194,"y":3.98},{"c":2,"x":154.3,"y":3.95},{"c":2,"x":192.7,"y":3.8},{"c":2,"x":201,"y":3.9},{"c":2,"x":153.3,"y":3.74},{"c":2,"x":150.7,"y":3.69},{"c":2,"x":171.7,"y":3.69},{"c":2,"x":181.7,"y":3.72},{"c":2,"x":166.7,"y":3.58},{"c":2,"x":162.7,"y":3.63},{"c":2,"x":176.7,"y":3.5},{"c":2,"x":156.7,"y":3.42},{"c":2,"x":155,"y":3.36},{"c":2,"x":191.7,"y":3.5},{"c":2,"x":196.7,"y":3.42},{"c":2,"x":173.3,"y":3.36},{"c":2,"x":160,"y":3.25},{"c":2,"x":168.3,"y":3.2},{"c":2,"x":181.7,"y":3.15},{"c":2,"x":188.3,"y":3.31},
{"c":3,"x":209.3,"y":4.37},{"c":3,"x":208.3,"y":4.2},{"c":3,"x":214,"y":4.21},{"c":3,"x":202,"y":4.04},{"c":3,"x":222,"y":4},{"c":3,"x":231,"y":4.03},{"c":3,"x":238.3,"y":3.94},{"c":3,"x":206.7,"y":3.85},{"c":3,"x":201.7,"y":3.72},{"c":3,"x":206.7,"y":3.69},{"c":3,"x":213.3,"y":3.63},{"c":3,"x":221.7,"y":3.69},{"c":3,"x":230,"y":3.61},{"c":3,"x":239.3,"y":3.58},{"c":3,"x":203.3,"y":3.47},{"c":3,"x":210,"y":3.5},{"c":3,"x":216.7,"y":3.58},{"c":3,"x":226,"y":3.47},{"c":3,"x":235,"y":3.47},{"c":3,"x":221.7,"y":3.31},{"c":3,"x":213.3,"y":3.36},
{"c":4,"x":262,"y":5.18},{"c":4,"x":261.7,"y":4.67},{"c":4,"x":261.7,"y":4.58},{"c":4,"x":270,"y":4.75},{"c":4,"x":245.7,"y":4.25},{"c":4,"x":275,"y":4.15},{"c":4,"x":270,"y":4.09},{"c":4,"x":261.7,"y":4.02},{"c":4,"x":282.3,"y":4.02},{"c":4,"x":270,"y":3.99},{"c":4,"x":256,"y":3.8},{"c":4,"x":263.3,"y":3.79},{"c":4,"x":270,"y":3.74},{"c":4,"x":249.3,"y":3.67},{"c":4,"x":246.7,"y":3.53},{"c":4,"x":253.3,"y":3.47},{"c":4,"x":261.7,"y":3.5},{"c":4,"x":270,"y":3.58},{"c":4,"x":276.7,"y":3.42},{"c":4,"x":245,"y":3.36},{"c":4,"x":256.7,"y":3.25},{"c":4,"x":266.7,"y":3.31},{"c":4,"x":281.7,"y":3.25},
{"c":5,"x":295.3,"y":4.84},{"c":5,"x":285.7,"y":4.68},{"c":5,"x":310,"y":4.37},{"c":5,"x":310,"y":4.11},{"c":5,"x":319.3,"y":4.19},{"c":5,"x":316.7,"y":3.88},{"c":5,"x":285,"y":3.67},{"c":5,"x":286.7,"y":3.58},{"c":5,"x":295,"y":3.42},{"c":5,"x":301.7,"y":3.58},{"c":5,"x":315,"y":3.53},{"c":5,"x":318.3,"y":3.47},{"c":5,"x":290,"y":3.31},{"c":5,"x":298.3,"y":3.25},{"c":5,"x":308.3,"y":3.33},{"c":5,"x":311.7,"y":3.2},{"c":5,"x":301.7,"y":3.36},
{"c":6,"x":356,"y":4.81},{"c":6,"x":342.3,"y":4.59},{"c":6,"x":350,"y":4.54},{"c":6,"x":345,"y":4.45},{"c":6,"x":351,"y":4.29},{"c":6,"x":345,"y":4.1},{"c":6,"x":353.3,"y":4.02},{"c":6,"x":325,"y":4.12},{"c":6,"x":322.7,"y":4.18},{"c":6,"x":336.7,"y":3.9},{"c":6,"x":343.3,"y":3.94},{"c":6,"x":348.3,"y":3.98},{"c":6,"x":325,"y":3.8},{"c":6,"x":328.3,"y":3.74},{"c":6,"x":335,"y":3.82},{"c":6,"x":350,"y":3.8},{"c":6,"x":355,"y":3.69},{"c":6,"x":323.3,"y":3.58},{"c":6,"x":330,"y":3.47},{"c":6,"x":340,"y":3.58},{"c":6,"x":345,"y":3.63},
{"c":7,"x":379.7,"y":5.2},{"c":7,"x":362.3,"y":4.25},{"c":7,"x":390,"y":4.28},{"c":7,"x":360,"y":4.09},{"c":7,"x":375.3,"y":4.08},{"c":7,"x":385.3,"y":3.85},{"c":7,"x":378.3,"y":3.79},{"c":7,"x":383.3,"y":3.74},{"c":7,"x":364,"y":3.67},{"c":7,"x":362.7,"y":3.5},{"c":7,"x":381.7,"y":3.5},{"c":7,"x":378.3,"y":3.36},{"c":7,"x":388.3,"y":3.36},{"c":7,"x":365,"y":3.36},{"c":7,"x":373.3,"y":3.2},
{"c":8,"x":415,"y":4.4},{"c":8,"x":421,"y":4.32},{"c":8,"x":409.3,"y":4.27},{"c":8,"x":407.7,"y":4.12},{"c":8,"x":395,"y":4.06},{"c":8,"x":413.3,"y":3.91},{"c":8,"x":392.3,"y":3.66},{"c":8,"x":401.7,"y":3.6},{"c":8,"x":404,"y":3.5},{"c":8,"x":415,"y":3.6},{"c":8,"x":396.7,"y":3.5},{"c":8,"x":408.3,"y":3.42},{"c":8,"x":420,"y":3.36},{"c":8,"x":400,"y":3.31},{"c":8,"x":411.7,"y":3.25},
{"c":9,"x":429,"y":4.42},{"c":9,"x":428.7,"y":4.31},{"c":9,"x":428,"y":4.07},{"c":9,"x":428,"y":3.94},{"c":9,"x":429.3,"y":3.75},{"c":9,"x":446.3,"y":4.4},{"c":9,"x":443.3,"y":3.9},{"c":9,"x":450,"y":3.9},{"c":9,"x":440,"y":3.74},{"c":9,"x":446.7,"y":3.63},{"c":9,"x":450,"y":3.53},{"c":9,"x":445,"y":3.42},{"c":9,"x":425,"y":3.25},{"c":9,"x":430,"y":3.15},{"c":9,"x":440,"y":3.31},
{"c":10,"x":471.3,"y":4.85},{"c":10,"x":479,"y":4.73},{"c":10,"x":469.3,"y":4.66},{"c":10,"x":454.3,"y":4.22},{"c":10,"x":475.7,"y":4.3},{"c":10,"x":467.7,"y":4.16},{"c":10,"x":480,"y":4.06},{"c":10,"x":465,"y":3.84},{"c":10,"x":457.7,"y":3.74},{"c":10,"x":479.3,"y":3.82},{"c":10,"x":472.3,"y":3.63},{"c":10,"x":461.7,"y":3.39},{"c":10,"x":468.3,"y":3.36},{"c":10,"x":475,"y":3.47},{"c":10,"x":478.3,"y":3.42},{"c":10,"x":456.7,"y":3.25},
{"c":11,"x":489,"y":4.52},{"c":11,"x":509.3,"y":4.5},{"c":11,"x":486.7,"y":4.21},{"c":11,"x":494,"y":4},{"c":11,"x":490,"y":3.94},{"c":11,"x":498,"y":3.88},{"c":11,"x":509.3,"y":3.8},{"c":11,"x":483.3,"y":3.67},{"c":11,"x":490,"y":3.74},{"c":11,"x":506.7,"y":3.67},{"c":11,"x":496.7,"y":3.63},{"c":11,"x":486.7,"y":3.42},{"c":11,"x":498.3,"y":3.47},{"c":11,"x":505,"y":3.36},{"c":11,"x":491.7,"y":3.25},
{"c":12,"x":531.3,"y":4.79},{"c":12,"x":530,"y":4.44},{"c":12,"x":511,"y":4.05},{"c":12,"x":521.7,"y":3.96},{"c":12,"x":518.3,"y":3.87},{"c":12,"x":530,"y":3.91},{"c":12,"x":535,"y":3.74},{"c":12,"x":513.3,"y":3.72},{"c":12,"x":518.3,"y":3.61},{"c":12,"x":523.3,"y":3.5},{"c":12,"x":535,"y":3.53},{"c":12,"x":513.3,"y":3.36},{"c":12,"x":531.7,"y":3.31},{"c":12,"x":528.3,"y":3.2},{"c":12,"x":510,"y":3.15},{"c":12,"x":523.3,"y":3.04},{"c":12,"x":533.3,"y":3.09},
{"c":13,"x":557.3,"y":4},{"c":13,"x":546.7,"y":3.96},{"c":13,"x":541.7,"y":3.91},{"c":13,"x":551,"y":3.72},{"c":13,"x":546.7,"y":3.74},{"c":13,"x":556,"y":3.72},{"c":13,"x":543.3,"y":3.58},{"c":13,"x":556.7,"y":3.55},{"c":13,"x":540,"y":3.42},{"c":13,"x":550,"y":3.47},
{"c":14,"x":573.7,"y":4.69},{"c":14,"x":565,"y":4.37},{"c":14,"x":563.3,"y":4.29},{"c":14,"x":574,"y":4.16},{"c":14,"x":565,"y":3.91},{"c":14,"x":568.3,"y":3.88},{"c":14,"x":563.3,"y":3.58},{"c":14,"x":568.3,"y":3.6},{"c":14,"x":572.7,"y":3.58},{"c":14,"x":560,"y":3.36},{"c":14,"x":575,"y":3.36},{"c":14,"x":566.7,"y":3.36},
{"c":15,"x":587,"y":4.36},{"c":15,"x":580.7,"y":4.21},{"c":15,"x":592.3,"y":4.02},{"c":15,"x":581.7,"y":3.94},{"c":15,"x":581.7,"y":3.79},{"c":15,"x":593.3,"y":3.85},{"c":15,"x":589.3,"y":3.69},{"c":15,"x":580.7,"y":3.53},{"c":15,"x":590.7,"y":3.5},{"c":15,"x":583.3,"y":3.36},{"c":15,"x":578.3,"y":3.31},
{"c":16,"x":597,"y":6},{"c":16,"x":599,"y":3.9},{"c":16,"x":595.7,"y":3.79},{"c":16,"x":610,"y":3.99},{"c":16,"x":607.3,"y":3.88},{"c":16,"x":611.7,"y":3.98},{"c":16,"x":610.7,"y":3.63},{"c":16,"x":599.3,"y":3.53},{"c":16,"x":612,"y":3.36},{"c":16,"x":598.3,"y":3.25},{"c":16,"x":606.7,"y":3.09},{"c":16,"x":600,"y":3.15},
{"c":17,"x":619,"y":4.19},{"c":17,"x":614.3,"y":4.16},{"c":17,"x":614.3,"y":4.04},{"c":17,"x":629,"y":4.3},{"c":17,"x":620,"y":3.8},{"c":17,"x":617.3,"y":3.77},{"c":17,"x":622.7,"y":3.72},{"c":17,"x":616.7,"y":3.67},{"c":17,"x":630,"y":3.69},{"c":17,"x":615,"y":3.58},{"c":17,"x":623.3,"y":3.31},{"c":17,"x":618.3,"y":3.36},
{"c":18,"x":631.7,"y":4.67},{"c":18,"x":631.7,"y":4.48},{"c":18,"x":630,"y":4.48},{"c":18,"x":632.7,"y":4.16},{"c":18,"x":631,"y":4.09},{"c":18,"x":643.3,"y":3.87},{"c":18,"x":637.7,"y":3.69},{"c":18,"x":642.7,"y":3.58},{"c":18,"x":645,"y":3.42},{"c":18,"x":633.3,"y":3.42},{"c":18,"x":638.3,"y":3.31},
{"c":19,"x":648.7,"y":3.75},{"c":19,"x":656.7,"y":3.9},{"c":19,"x":655.7,"y":3.69},{"c":19,"x":650,"y":3.58},{"c":19,"x":651.7,"y":3.47},{"c":19,"x":648.3,"y":3.31},{"c":19,"x":655,"y":3.25},{"c":19,"x":658.3,"y":3.33},
{"c":20,"x":664.3,"y":4.48},{"c":20,"x":671.7,"y":4.2},{"c":20,"x":666.7,"y":4.07},{"c":20,"x":661,"y":4.03},{"c":20,"x":667.3,"y":3.81},{"c":20,"x":669.3,"y":3.67},{"c":20,"x":670.7,"y":3.42},{"c":20,"x":661.7,"y":3.42},
{"c":21,"x":675.7,"y":4.2},{"c":21,"x":678.3,"y":3.31},{"c":21,"x":675,"y":3.15},
{"c":22,"x":681,"y":3.75},{"c":22,"x":683.3,"y":3.55},{"c":22,"x":688.3,"y":3.47},{"c":22,"x":685,"y":3.25},{"c":22,"x":681.7,"y":3.2},{"c":22,"x":686.7,"y":3.31},
{"c":1,"x":99,"y":3.2},{"c":1,"x":104,"y":3.35},{"c":1,"x":108,"y":3.3},{"c":1,"x":114,"y":3.2},{"c":1,"x":118,"y":3.3},{"c":1,"x":122,"y":3.2},{"c":1,"x":130,"y":3.2},{"c":1,"x":134,"y":3.4},{"c":1,"x":138,"y":3.2},{"c":1,"x":142,"y":3.25},{"c":1,"x":145,"y":3.4},{"c":2,"x":152,"y":3.5},{"c":2,"x":156,"y":3.55},{"c":2,"x":162,"y":3.45},{"c":2,"x":166,"y":3.4},{"c":2,"x":170,"y":3.3},{"c":2,"x":175,"y":3.2},{"c":2,"x":179,"y":3.3},{"c":2,"x":184,"y":3.1},{"c":2,"x":187,"y":3.35},{"c":2,"x":193,"y":3.45},{"c":2,"x":197,"y":3.3},{"c":3,"x":203,"y":3.3},{"c":3,"x":207,"y":3.45},{"c":3,"x":212,"y":3.4},{"c":3,"x":216,"y":3.35},{"c":3,"x":219,"y":3.3},{"c":3,"x":224,"y":3.35},{"c":3,"x":228,"y":3.3},{"c":3,"x":232,"y":3.45},{"c":3,"x":237,"y":3.55},{"c":4,"x":243,"y":3.45},{"c":4,"x":248,"y":3.35},{"c":4,"x":252,"y":3.2},{"c":4,"x":258,"y":3.3},{"c":4,"x":263,"y":3.35},{"c":4,"x":268,"y":3.4},{"c":4,"x":272,"y":3.3},{"c":4,"x":276,"y":3.25},{"c":4,"x":280,"y":3.3},{"c":5,"x":283,"y":3.3},{"c":5,"x":288,"y":3.2},{"c":5,"x":292,"y":3.25},{"c":5,"x":297,"y":3.2},{"c":5,"x":304,"y":3.1},{"c":5,"x":309,"y":3.15},{"c":5,"x":313,"y":3.1},{"c":5,"x":317,"y":3.3},{"c":6,"x":323,"y":3.45},{"c":6,"x":327,"y":3.3},{"c":6,"x":333,"y":3.05},{"c":6,"x":337,"y":3.3},{"c":6,"x":341,"y":3.4},{"c":6,"x":347,"y":3.7},{"c":6,"x":351,"y":3.6},{"c":6,"x":354,"y":3.7},{"c":7,"x":359,"y":3.35},{"c":7,"x":363,"y":3.2},{"c":7,"x":368,"y":3.2},{"c":7,"x":373,"y":3.3},{"c":7,"x":377,"y":3.25},{"c":7,"x":383,"y":3.35},{"c":7,"x":387,"y":3.3},{"c":8,"x":393,"y":3.45},{"c":8,"x":397,"y":3.3},{"c":8,"x":403,"y":3.25},{"c":8,"x":407,"y":3.2},{"c":8,"x":412,"y":3.3},{"c":8,"x":417,"y":3.4},{"c":9,"x":423,"y":3.2},{"c":9,"x":428,"y":3.05},{"c":9,"x":439,"y":3.2},{"c":9,"x":443,"y":3.35},{"c":9,"x":447,"y":3.3},{"c":10,"x":454,"y":3.25},{"c":10,"x":459,"y":3.1},{"c":10,"x":464,"y":3.25},{"c":10,"x":469,"y":3.45},{"c":10,"x":473,"y":3.5},{"c":10,"x":477,"y":3.55},{"c":11,"x":482,"y":3.45},{"c":11,"x":486,"y":3.3},{"c":11,"x":492,"y":3.15},{"c":11,"x":497,"y":3.2},{"c":11,"x":503,"y":3.35},{"c":11,"x":507,"y":3.45},{"c":12,"x":511,"y":3.05},{"c":12,"x":516,"y":3},{"c":12,"x":521,"y":3.05},{"c":12,"x":526,"y":3.05},{"c":12,"x":532,"y":3.15},{"c":13,"x":539,"y":3.5},{"c":13,"x":543,"y":3.45},{"c":13,"x":547,"y":3.3},{"c":13,"x":552,"y":3.25},{"c":13,"x":555,"y":3.3},{"c":14,"x":559,"y":3.35},{"c":14,"x":563,"y":3.2},{"c":14,"x":566,"y":3.3},{"c":14,"x":571,"y":3.2},{"c":14,"x":574,"y":3.25},{"c":15,"x":578,"y":3.35},{"c":15,"x":582,"y":3.45},{"c":15,"x":586,"y":3.3},{"c":15,"x":590,"y":3.15},{"c":16,"x":595,"y":3.1},{"c":16,"x":599,"y":3.05},{"c":16,"x":605,"y":3.05},{"c":16,"x":609,"y":3.2},{"c":17,"x":613,"y":3.25},{"c":17,"x":617,"y":3.35},{"c":17,"x":621,"y":3.35},{"c":17,"x":626,"y":3.25},{"c":18,"x":631,"y":3.3},{"c":18,"x":636,"y":3.35},{"c":18,"x":640,"y":3.3},{"c":18,"x":643,"y":3.45},{"c":19,"x":647,"y":3.15},{"c":19,"x":651,"y":3.1},{"c":19,"x":654,"y":3.25},{"c":20,"x":660,"y":3.45},{"c":20,"x":664,"y":3.25},{"c":20,"x":668,"y":3.2},{"c":21,"x":674,"y":3.25},{"c":22,"x":682,"y":3.15},{"c":22,"x":687,"y":3.1}],
"lab_a":[{"x":1,"y":10.9,"t":"(a)"}],"lab_b":[{"x":1,"y":10.66,"t":"(b)"}]},
"vconcat":[
{"width":632,"height":310,"title":{"text":"Dexmedetomidine Clearance","fontSize":21.8,"font":"Liberation Sans","fontWeight":"normal","color":"#222","anchor":"middle","dx":-7.5,"offset":-34},
"layer":[
{"data":{"name":"rects_a"},"mark":{"type":"rect"},"encoding":{"x":{"field":"x","type":"quantitative","scale":{"domain":[74.5,706.5],"nice":false,"zero":false},"axis":{"values":[116.3,170.7,217.7,260,300.3,336.7,370.7,403.7,437.7,465,494.3,522.7,547,566.3,585.3,605.3,621.7,638.7,653,666.3,677,684.7],"tickCount":40,"labelExpr":"['1','2','3','4','5','6','7','8','9','10','11','12','','14','','16','','18','','20','',''][indexof([116.3,170.7,217.7,260,300.3,336.7,370.7,403.7,437.7,465,494.3,522.7,547,566.3,585.3,605.3,621.7,638.7,653,666.3,677,684.7],datum.value)]","domain":false,"grid":false,"tickSize":9,"tickColor":"#555","tickWidth":1.2,"labelFontSize":13.5,"labelColor":"#444","labelPadding":12,"labelOverlap":false,"labelFlush":false,"labelAngle":0,"title":"Chromosome","titleFontSize":19.3,"titleFontWeight":"normal","titleColor":"#222","titlePadding":23,"titleX":308.5}},"x2":{"field":"x2"},"y":{"field":"y","type":"quantitative","scale":{"domain":[0,10],"nice":false},"axis":{"values":[0,2,4,6,8,10],"grid":false,"domainColor":"#555","domainWidth":1.3,"tickColor":"#555","tickWidth":1.2,"tickSize":10,"labelFontSize":14,"labelColor":"#444","labelPadding":8,"title":"-log₁₀(𝑝)","titleFontSize":19,"titleFontWeight":"normal","titleColor":"#222","titlePadding":17}},"y2":{"datum":0},"color":{"field":"c","type":"nominal","legend":null,"scale":{"domain":[1,2,3,4,5,6,7,8,9,10,11,12,13,14,15,16,17,18,19,20,21,22],"range":["#5088C8","#FFC030","#50468F","#CC5A5C","#5C723C","#CC8A38","#7C3F90","#4C8C75","#8C6A8A","#5088C8","#FFC030","#50468F","#CC5A5C","#5C723C","#CC8A38","#7C3F90","#4C8C75","#8C6A8A","#5088C8","#FFC030","#50468F","#CC5A5C"]}}}},
{"data":{"name":"cols_a"},"mark":{"type":"rule","strokeWidth":3.8},"encoding":{"x":{"field":"x","type":"quantitative"},"y":{"field":"y","type":"quantitative"},"y2":{"datum":2},"color":{"field":"c","type":"nominal"}}},
{"data":{"name":"cols_a"},"mark":{"type":"circle","size":15,"opacity":1},"encoding":{"x":{"field":"x","type":"quantitative"},"y":{"field":"y","type":"quantitative"},"color":{"field":"c","type":"nominal"}}},
{"data":{"name":"pts_a"},"mark":{"type":"circle","size":15,"opacity":1},"encoding":{"x":{"field":"x","type":"quantitative"},"y":{"field":"y","type":"quantitative"},"color":{"field":"c","type":"nominal"}}},
{"data":{"values":[{"y":7.3}]},"mark":{"type":"rule","color":"#F08080","strokeWidth":1.5},"encoding":{"x":{"datum":74.5},"x2":{"datum":706},"y":{"field":"y","type":"quantitative"}}},
{"data":{"values":[{"y":5}]},"mark":{"type":"rule","color":"#6A66B8","strokeWidth":1.5},"encoding":{"x":{"datum":74.5},"x2":{"datum":706},"y":{"field":"y","type":"quantitative"}}},
{"data":{"name":"lab_a"},"mark":{"type":"text","align":"left","baseline":"middle","fontWeight":"bold","fontSize":14,"color":"#111"},"encoding":{"x":{"field":"x","type":"quantitative"},"y":{"field":"y","type":"quantitative"},"text":{"field":"t"}}}
]},
{"width":632,"height":306.4,"title":{"text":"Fentanyl Clearance","fontSize":21.8,"font":"Liberation Sans","fontWeight":"normal","color":"#222","anchor":"middle","dx":-4,"offset":-34},
"layer":[
{"data":{"name":"rects_b"},"mark":{"type":"rect"},"encoding":{"x":{"field":"x","type":"quantitative","scale":{"domain":[74.5,706.5],"nice":false,"zero":false},"axis":{"values":[121.7,175.3,222.3,263.7,304,340,373.7,406.7,440.3,467,496,524.3,548.7,568,586.7,606,622.3,639.7,653.7,666.7,677.7,685],"tickCount":40,"labelExpr":"['1','2','3','4','5','6','7','8','9','10','11','12','','14','','16','','18','','20','',''][indexof([121.7,175.3,222.3,263.7,304,340,373.7,406.7,440.3,467,496,524.3,548.7,568,586.7,606,622.3,639.7,653.7,666.7,677.7,685],datum.value)]","domain":false,"grid":false,"tickSize":9,"tickColor":"#555","tickWidth":1.2,"labelFontSize":13.5,"labelColor":"#444","labelPadding":12,"labelOverlap":false,"labelFlush":false,"labelAngle":0,"title":"Chromosome","titleFontSize":19.3,"titleFontWeight":"normal","titleColor":"#222","titlePadding":23,"titleX":312}},"x2":{"field":"x2"},"y":{"field":"y","type":"quantitative","scale":{"domain":[0,10],"nice":false},"axis":{"values":[0,2,4,6,8,10],"offset":-5.5,"grid":false,"domainColor":"#777","domainWidth":2,"tickColor":"#666","tickWidth":1.2,"tickSize":10,"labelFontSize":14,"labelColor":"#444","labelPadding":8,"title":"-log₁₀(𝑝)","titleFontSize":19,"titleFontWeight":"normal","titleColor":"#222","titlePadding":15}},"y2":{"datum":0},"color":{"field":"c","type":"nominal","legend":null,"scale":{"domain":[1,2,3,4,5,6,7,8,9,10,11,12,13,14,15,16,17,18,19,20,21,22],"range":["#5088C8","#FFC030","#50468F","#CC5A5C","#5C723C","#CC8A38","#7C3F90","#4C8C75","#8C6A8A","#5088C8","#FFC030","#50468F","#CC5A5C","#5C723C","#CC8A38","#7C3F90","#4C8C75","#8C6A8A","#5088C8","#FFC030","#50468F","#CC5A5C"]}}}},
{"data":{"name":"cols_b"},"mark":{"type":"rule","strokeWidth":3.8},"encoding":{"x":{"field":"x","type":"quantitative"},"y":{"field":"y","type":"quantitative"},"y2":{"datum":2},"color":{"field":"c","type":"nominal"}}},
{"data":{"name":"cols_b"},"mark":{"type":"circle","size":15,"opacity":1},"encoding":{"x":{"field":"x","type":"quantitative"},"y":{"field":"y","type":"quantitative"},"color":{"field":"c","type":"nominal"}}},
{"data":{"name":"pts_b"},"mark":{"type":"circle","size":15,"opacity":1},"encoding":{"x":{"field":"x","type":"quantitative"},"y":{"field":"y","type":"quantitative"},"color":{"field":"c","type":"nominal"}}},
{"data":{"values":[{"y":7.3}]},"mark":{"type":"rule","color":"#F59A9F","strokeWidth":2},"encoding":{"x":{"datum":80},"x2":{"datum":706},"y":{"field":"y","type":"quantitative"}}},
{"data":{"values":[{"y":5}]},"mark":{"type":"rule","color":"#7F7CC4","strokeWidth":1.5},"encoding":{"x":{"datum":80},"x2":{"datum":706},"y":{"field":"y","type":"quantitative"}}},
{"data":{"name":"lab_b"},"mark":{"type":"text","align":"left","baseline":"middle","fontWeight":"bold","fontSize":14,"color":"#111"},"encoding":{"x":{"field":"x","type":"quantitative"},"y":{"field":"y","type":"quantitative"},"text":{"field":"t"}}}
]}
]}
